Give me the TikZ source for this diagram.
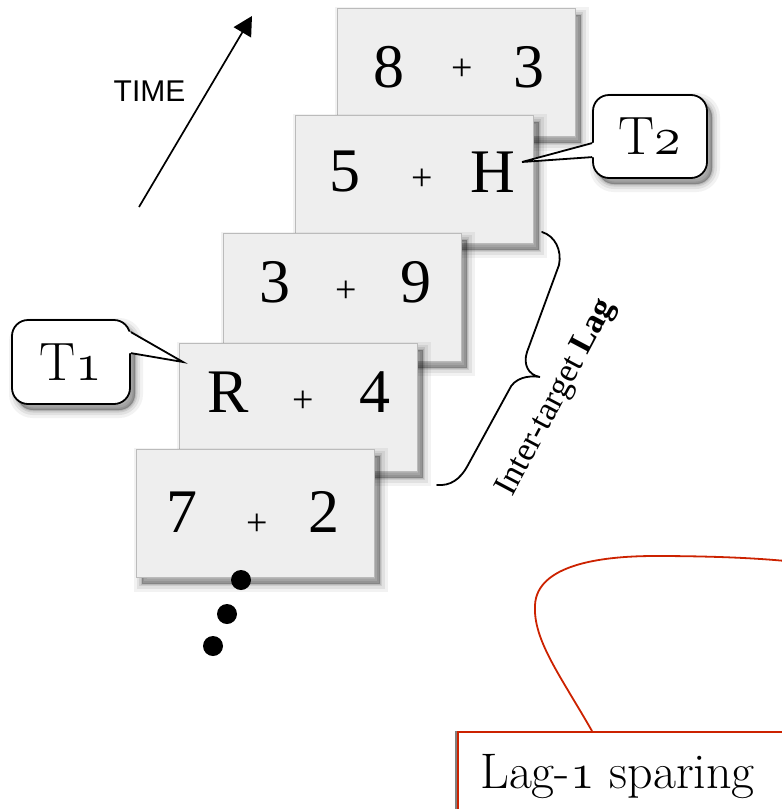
\documentclass[tikz,border=0pt]{standalone}
\usepackage{fontspec}
\setmainfont{Liberation Serif}
\newfontfamily\lmfont{Latin Modern Roman}
\newfontfamily\sansfont{Liberation Sans}
\usetikzlibrary{arrows.meta,shadows,calc}
\newcommand\myosf[2]{\scalebox{#1}{\fontsize{24.88}{26}\usefont{OML}{cmm}{m}{it}#2}}
\definecolor{cardfill}{HTML}{EEEEEE}
\definecolor{cardborder}{HTML}{BBBBBB}
\definecolor{lagred}{HTML}{CC2200}
\tikzset{
  softshadow/.style={
    general shadow={draw=black, fill=black, line width=16pt, opacity=0.05, shadow xshift=5pt, shadow yshift=-6pt},
    general shadow={draw=black, fill=black, line width=10pt, opacity=0.07, shadow xshift=5pt, shadow yshift=-6pt},
    general shadow={draw=black, fill=black, line width=5pt, opacity=0.09, shadow xshift=5pt, shadow yshift=-6pt},
    general shadow={draw=black, fill=black, line width=2pt, opacity=0.1, shadow xshift=5pt, shadow yshift=-6pt}},
  card/.style={softshadow, draw=cardborder, line width=1.4pt, fill=cardfill,
    minimum width=238pt, minimum height=128pt, inner sep=0pt, anchor=north west},
  digit/.style={inner sep=0pt, font=\fontsize{62}{64}\selectfont},
  plussign/.style={inner sep=0pt, font=\fontsize{38}{40}\selectfont},
  callbox/.style={softshadow, draw=black, line width=1.8pt, fill=white, rounded corners=16pt,
    inner sep=0pt, font=\lmfont\fontsize{54}{56}\selectfont},
  tailline/.style={draw=black, line width=1.8pt, line join=miter},
  dotnode/.style={circle, fill=black, minimum size=20pt, inner sep=0pt},
  lagbox/.style={draw=lagred, line width=1.8pt, fill=white, minimum width=400pt, minimum height=120pt,
    inner sep=0pt, anchor=north west,
    general shadow={draw=gray, line width=1.5pt, shadow xshift=-2pt, shadow yshift=0pt}},
}
\begin{document}
\begin{tikzpicture}[x=1pt, y=-1pt]
\useasboundingbox (0,0) rectangle (782,809);
\clip (0,0) rectangle (782,809);

% TIME arrow
\coordinate (timeA) at (139,207);
\coordinate (timeB) at (252,16);
\draw[line width=1.7pt, -{Triangle[length=19pt,width=20pt]}] (timeA) -- (timeB);
\node[font=\sansfont\fontsize{30}{32}\selectfont, inner sep=0pt] (time) at (149.5,91) {TIME};

% cards (back to front)
\node[card] (c1) at (337,8) {};
\node[digit] (c1a) at (389,67) {8};
\node[plussign] (c1b) at (462,70) {+};
\node[digit] (c1c) at (529,67) {3};

\node[card] (c2) at (295,115) {};
\node[digit] (c2a) at (345,172) {5};
\node[plussign] (c2b) at (422,180) {+};
\node[digit] (c2c) at (493,172) {H};

\node[card] (c3) at (223,233) {};
\node[digit] (c3a) at (275,282) {3};
\node[plussign] (c3b) at (346,292) {+};
\node[digit] (c3c) at (416,282) {9};

\node[card] (c4) at (179,343) {};
\node[digit] (c4a) at (228,392) {R};
\node[plussign] (c4b) at (303,402) {+};
\node[digit] (c4c) at (375,392) {4};

\node[card] (c5) at (136,449) {};
\node[digit] (c5a) at (182,512) {7};
\node[plussign] (c5b) at (257,525) {+};
\node[digit] (c5c) at (324,512) {2};

% dots
\node[dotnode] (d1) at (241,580) {};
\node[dotnode] (d2) at (227,614) {};
\node[dotnode] (d3) at (213,646) {};

% T2 callout
\node[callbox, minimum width=114pt, minimum height=83pt] (t2) at (650,136.5) {T\myosf{2.17}{2}};
\coordinate (tip2) at (522,162);
\coordinate (t2u) at ($(t2.north west)+(0,49)$);
\coordinate (t2l) at ($(t2.north west)+(0,63)$);
\fill[white] (tip2) -- (t2u) -- ($(t2u)+(4,-1)$) -- ($(t2l)+(4,0.5)$) -- (t2l) -- cycle;
\draw[tailline] (t2u) -- (tip2) -- (t2l);

% T1 callout
\node[callbox, minimum width=118pt, minimum height=84pt] (t1) at (71,362) {T\myosf{2.17}{1}};
\coordinate (tip1) at (183,362);
\coordinate (t1u) at ($(t1.north east)+(0,13)$);
\coordinate (t1l) at ($(t1.north east)+(0,34)$);
\fill[white] (tip1) -- (t1u) -- ($(t1u)+(-4,-1)$) -- ($(t1l)+(-4,0.5)$) -- (t1l) -- cycle;
\draw[tailline] (t1u) -- (tip1) -- (t1l);

% brace
\draw[line width=1.8pt, line cap=round]
  (542,232) .. controls (555,236) and (562,250) .. (559,265)
  -- (527,352) .. controls (523,364) and (528,375) .. (540,377)
  .. controls (528,375) and (514,378) .. (509,390)
  -- (468,465) .. controls (460,480) and (450,486) .. (437,485);
\node[rotate=62, inner sep=0pt, font=\fontsize{34}{36}\selectfont] (lag) at (557,398) {Inter-target \textbf{Lag}};

% Lag-1 sparing
\node[lagbox] (lagb) at (457,731) {};
\draw[lagred, line width=1.8pt]
  (lagb.north west -| 592,0) .. controls (560,675) and (533,640) .. (535,605)
  .. controls (537,565) and (600,556) .. (655,556)
  .. controls (710,556) and (760,558) .. (795,562);
\node[anchor=base west, inner sep=0pt, font=\lmfont\fontsize{50}{52}\selectfont] (lagtxt) at (480,788) {Lag-\myosf{2.01}{1} sparing};
\end{tikzpicture}
\end{document}
